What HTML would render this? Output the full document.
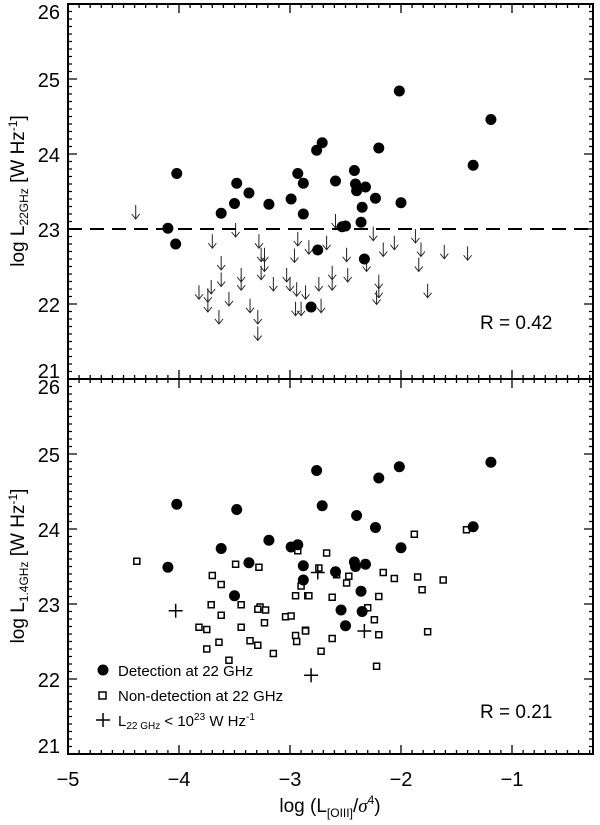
<!DOCTYPE html>
<html><head><meta charset="utf-8"><style>
body{margin:0;background:#fff;}
svg{display:block;font-family:"Liberation Sans",sans-serif;}
</style></head><body>
<svg id="chart" width="600" height="825" viewBox="0 0 600 825" xmlns="http://www.w3.org/2000/svg">
<g id="axes"></g>
<g id="marks"></g>
<line x1="68" y1="229" x2="593" y2="229" stroke="#000" stroke-width="2" stroke-dasharray="14,8"/>
<text transform="translate(24,191) rotate(-90)" text-anchor="middle" font-size="19">log L<tspan font-size="12" dy="4">22GHz</tspan><tspan dy="-4"> [W Hz</tspan><tspan font-size="12" dy="-7">-1</tspan><tspan dy="7">]</tspan></text>
<text transform="translate(24,566) rotate(-90)" text-anchor="middle" font-size="19">log L<tspan font-size="12" dy="4">1.4GHz</tspan><tspan dy="-4"> [W Hz</tspan><tspan font-size="12" dy="-7">-1</tspan><tspan dy="7">]</tspan></text>
<text x="330" y="812" text-anchor="middle" font-size="19">log (L<tspan font-size="12" dy="5">[OIII]</tspan><tspan dy="-5">/</tspan><tspan font-style="italic" font-family="Liberation Serif">σ</tspan><tspan font-size="12" dy="-8">4</tspan><tspan dy="8">)</tspan></text>
<text x="480" y="329" font-size="19">R = 0.42</text>
<text x="480" y="718" font-size="19">R = 0.21</text>
<g font-size="15">
<circle cx="103" cy="670" r="5.5"/>
<text x="118" y="676">Detection at 22 GHz</text>
<rect x="99" y="692" width="7" height="7" fill="#fff" stroke="#000" stroke-width="1.5"/>
<text x="118" y="701">Non-detection at 22 GHz</text>
<path d="M96 720h14M103 713v14" stroke="#000" stroke-width="1.5"/>
<text x="118" y="726">L<tspan font-size="10" dy="3">22 GHz</tspan><tspan dy="-3"> &lt; 10</tspan><tspan font-size="10" dy="-6">23</tspan><tspan dy="6"> W Hz</tspan><tspan font-size="10" dy="-6">-1</tspan></text>
</g>
</svg>
<script>
// Top panel: detections (log [OIII]/sigma^4, log L22)
const topDetX=[-4.10,-4.02,-4.03,-3.62,-3.50,-3.48,-3.37,-3.19,-2.99,-2.93,-2.88,-2.88,-2.76,-2.71,-2.75,-2.81,-2.59,-2.53,-2.50,-2.015,-1.19,-1.35,-2.20,-2.42,-2.41,-2.40,-2.32,-2.23,-2.35,-2.36,-2.00,-2.33];
const topDetY=[23.01,23.74,22.80,23.21,23.34,23.61,23.48,23.33,23.40,23.74,23.61,23.20,24.05,24.15,22.72,21.96,23.64,23.03,23.04,24.84,24.46,23.85,24.08,23.78,23.60,23.51,23.56,23.41,23.29,23.09,23.35,22.60];
// Top panel: upper limits
const topLimX=[-4.39,-3.70,-3.62,-3.62,-3.71,-3.82,-3.74,-3.74,-3.64,-3.55,-3.49,-3.44,-3.44,-3.36,-3.29,-3.29,-3.28,-3.26,-3.23,-3.23,-3.26,-3.15,-3.03,-3.00,-2.96,-2.93,-2.94,-2.86,-2.95,-2.90,-2.83,-2.74,-2.72,-2.67,-2.62,-2.62,-2.59,-2.49,-2.48,-2.25,-2.06,-1.87,-2.16,-1.82,-1.61,-1.40,-2.31,-1.84,-2.20,-2.20,-2.22,-1.76];
const topLimY=[23.32,22.93,22.64,22.42,22.32,22.25,22.21,22.08,21.92,22.16,23.08,22.48,22.37,22.07,21.92,21.70,22.93,22.75,22.75,22.62,22.51,22.36,22.48,22.36,22.74,22.96,22.29,22.25,22.03,22.03,22.85,22.36,22.07,22.91,22.51,22.37,23.20,22.75,22.48,23.03,22.91,23.00,22.82,22.82,22.79,22.77,22.62,22.62,22.39,22.27,22.18,22.27];
// Bottom panel: detections
const botDetX=[-4.02,-3.48,-3.19,-3.62,-2.99,-2.93,-4.10,-3.37,-2.88,-2.88,-3.50,-2.76,-2.20,-2.015,-1.19,-2.71,-2.40,-2.23,-1.35,-2.00,-2.59,-2.42,-2.41,-2.32,-2.36,-2.54,-2.35,-2.50];
const botDetY=[24.33,24.26,23.85,23.74,23.76,23.79,23.49,23.55,23.51,23.32,23.11,24.78,24.68,24.83,24.89,24.31,24.18,24.02,24.03,23.75,23.43,23.56,23.50,23.53,23.17,22.92,22.90,22.71];
// Bottom panel: non-detections
const botNonX=[-4.38,-3.49,-3.28,-2.93,-3.70,-3.62,-2.90,-2.95,-2.84,-3.71,-3.44,-3.27,-3.29,-3.22,-3.62,-3.04,-2.99,-3.23,-3.82,-3.75,-3.44,-2.86,-2.95,-3.64,-3.75,-3.36,-3.29,-2.94,-3.15,-3.55,-1.88,-1.41,-2.67,-2.74,-2.58,-2.47,-2.49,-2.16,-2.06,-1.85,-1.62,-1.81,-2.83,-2.62,-2.20,-2.30,-2.24,-2.86,-2.20,-1.76,-2.62,-2.72,-2.22];
const botNonY=[23.57,23.53,23.49,23.71,23.38,23.26,23.24,23.11,23.11,22.99,22.99,22.96,22.93,22.92,22.85,22.83,22.84,22.75,22.69,22.66,22.69,22.65,22.58,22.49,22.40,22.51,22.45,22.50,22.34,22.25,23.93,23.99,23.68,23.48,23.39,23.37,23.28,23.42,23.34,23.36,23.32,23.19,23.11,23.09,23.10,22.95,22.79,22.64,22.59,22.63,22.54,22.37,22.17];
// Bottom panel: L22 < 1e23 crosses
const botPlusX=[-4.03,-2.75,-2.33,-2.81];
const botPlusY=[22.91,23.42,22.64,22.05];
const xTicks=[-5,-4,-3,-2,-1];
const xTickLabels=["\u22125","\u22124","\u22123","\u22122","\u22121"];
const yTicks=[21,22,23,24,25,26];

const NS="http://www.w3.org/2000/svg";
const L=68,R=593,X0=-5,XS=111;
const PT=[4,379],PH=375,YMIN=21,YS=75;
const sx=v=>L+(v-X0)*XS;
const syT=v=>PT[0]+PH-(v-YMIN)*YS;
const syB=v=>PT[1]+PH-(v-YMIN)*YS;
const axes=document.getElementById('axes'),marks=document.getElementById('marks');
function mk(tag,attrs,parent){const e=document.createElementNS(NS,tag);for(const k in attrs)e.setAttribute(k,attrs[k]);parent.appendChild(e);return e;}
let d="";
PT.forEach((top,pi)=>{
  const bot=top+PH;
  const r=mk('rect',{x:L,y:top,width:R-L,height:PH,fill:'none',stroke:'#000','stroke-width':2},axes);
  
  
  for(let i=0;i<=47;i++){const v=-5+i*0.1;const x=sx(v);if(x>R)break;const maj=i%10===0;const len=maj?9:4;
    d+=`M${x} ${bot}v${-len}M${x} ${top}v${len}`;}
  for(let i=0;i<=50;i++){const y=top+PH-i*7.5;const maj=i%10===0;const len=maj?9:4;
    d+=`M${L} ${y}h${len}M${R} ${y}h${-len}`;}
  yTicks.forEach(v=>{const y=top+PH-(v-YMIN)*YS;
    let off=8; if(v===YMIN) off=-1; if(v===26) off=15;
    const t=mk('text',{x:60,y:y+off,'text-anchor':'end','font-size':20},axes);t.textContent=v;
    
    });
});
const tk=mk('path',{d:d,stroke:'#000','stroke-width':1.3,fill:'none'},axes);


xTicks.forEach((v,i)=>{const t=mk('text',{x:sx(v),y:786,'text-anchor':'middle','font-size':20},axes);t.textContent=xTickLabels[i];
  
  });

topLimX.forEach((v,i)=>{const x=sx(v),y=syT(topLimY[i]);
  const p=mk('path',{d:`M${x} ${y}v14M${x-4} ${y+9}L${x} ${y+14}L${x+4} ${y+9}`,stroke:'#222','stroke-width':1,fill:'none'},marks);
  
  });
topDetX.forEach((v,i)=>{const c=mk('circle',{cx:sx(v),cy:syT(topDetY[i]),r:5.5,fill:'#000'},marks);
  
  });
botNonX.forEach((v,i)=>{const s=mk('rect',{x:sx(v)-3,y:syB(botNonY[i])-3,width:6,height:6,fill:'#fff',stroke:'#000','stroke-width':1.5},marks);
  
  });
botDetX.forEach((v,i)=>{const c=mk('circle',{cx:sx(v),cy:syB(botDetY[i]),r:5.5,fill:'#000'},marks);
  
  });
botPlusX.forEach((v,i)=>{const x=sx(v),y=syB(botPlusY[i]);
  const p=mk('path',{d:`M${x-7} ${y}h14M${x} ${y-7}v14`,stroke:'#000','stroke-width':1.5},marks);
  
  });
</script>
</body></html>
